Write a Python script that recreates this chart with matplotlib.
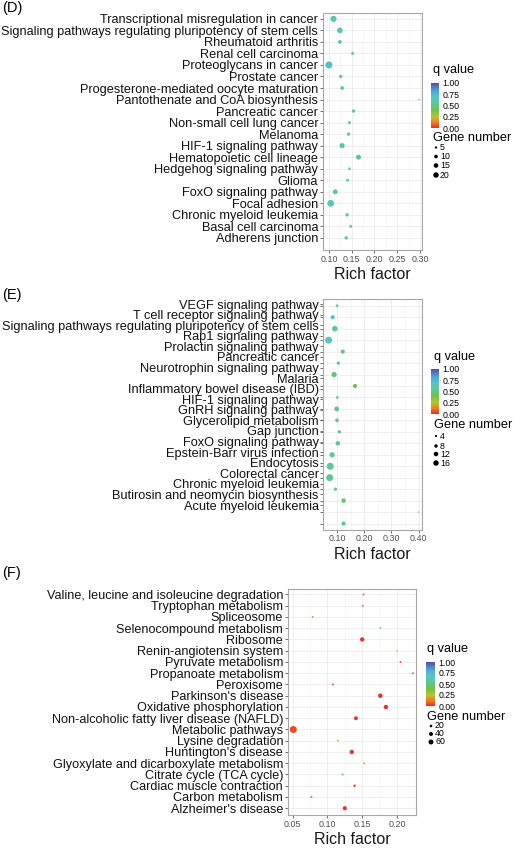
"""KEGG enrichment bubble plots, panels D/E/F."""

import numpy as np
import matplotlib.pyplot as plt
from matplotlib.colors import LinearSegmentedColormap, Normalize
from matplotlib.cm import ScalarMappable

plt.rcParams["font.family"] = ["Liberation Sans", "DejaVu Sans"]

W, H = 514, 850

# ---------------- data ----------------
d_terms = [
    "Transcriptional misregulation in cancer",
    "Signaling pathways regulating pluripotency of stem cells",
    "Rheumatoid arthritis",
    "Renal cell carcinoma",
    "Proteoglycans in cancer",
    "Prostate cancer",
    "Progesterone-mediated oocyte maturation",
    "Pantothenate and CoA biosynthesis",
    "Pancreatic cancer",
    "Non-small cell lung cancer",
    "Melanoma",
    "HIF-1 signaling pathway",
    "Hematopoietic cell lineage",
    "Hedgehog signaling pathway",
    "Glioma",
    "FoxO signaling pathway",
    "Focal adhesion",
    "Chronic myeloid leukemia",
    "Basal cell carcinoma",
    "Adherens junction",
]
d_rich = [0.110, 0.124, 0.124, 0.152, 0.100, 0.126, 0.129, 0.298, 0.154, 0.145,
          0.143, 0.129, 0.165, 0.145, 0.141, 0.114, 0.104, 0.140, 0.148, 0.138]
d_genes = [16, 14, 7, 5, 20, 6, 7, 2, 6, 5, 6, 12, 11, 4, 5, 11, 19, 6, 5, 6]
d_q = [0.62, 0.62, 0.66, 0.60, 0.72, 0.62, 0.60, 0.60, 0.60, 0.60,
       0.60, 0.62, 0.58, 0.62, 0.60, 0.62, 0.64, 0.62, 0.60, 0.60]

e_terms = [
    "VEGF signaling pathway",
    "T cell receptor signaling pathway",
    "Signaling pathways regulating pluripotency of stem cells",
    "Rap1 signaling pathway",
    "Prolactin signaling pathway",
    "Pancreatic cancer",
    "Neurotrophin signaling pathway",
    "Malaria",
    "Inflammatory bowel disease (IBD)",
    "HIF-1 signaling pathway",
    "GnRH signaling pathway",
    "Glycerolipid metabolism",
    "Gap junction",
    "FoxO signaling pathway",
    "Epstein-Barr virus infection",
    "Endocytosis",
    "Colorectal cancer",
    "Chronic myeloid leukemia",
    "Butirosin and neomycin biosynthesis",
    "Acute myeloid leukemia",
]
e_rich = [0.100, 0.084, 0.092, 0.069, 0.121, 0.105, 0.089, 0.166, 0.101, 0.099,
          0.100, 0.109, 0.103, 0.082, 0.075, 0.073, 0.094, 0.124, 0.400, 0.124]
e_genes = [4, 7, 11, 16, 7, 5, 10, 7, 4, 9, 6, 5, 8, 10, 16, 16, 5, 8, 2, 7]
e_q = [0.66, 0.70, 0.56, 0.68, 0.48, 0.60, 0.50, 0.42, 0.64, 0.54,
       0.54, 0.58, 0.56, 0.56, 0.54, 0.54, 0.66, 0.48, 0.62, 0.50]

f_terms = [
    "Valine, leucine and isoleucine degradation",
    "Tryptophan metabolism",
    "Spliceosome",
    "Selenocompound metabolism",
    "Ribosome",
    "Renin-angiotensin system",
    "Pyruvate metabolism",
    "Propanoate metabolism",
    "Peroxisome",
    "Parkinson's disease",
    "Oxidative phosphorylation",
    "Non-alcoholic fatty liver disease (NAFLD)",
    "Metabolic pathways",
    "Lysine degradation",
    "Huntington's disease",
    "Glyoxylate and dicarboxylate metabolism",
    "Citrate cycle (TCA cycle)",
    "Cardiac muscle contraction",
    "Carbon metabolism",
    "Alzheimer's disease",
]
f_rich = [0.152, 0.151, 0.079, 0.176, 0.150, 0.200, 0.205, 0.223, 0.108, 0.176,
          0.184, 0.141, 0.051, 0.115, 0.135, 0.153, 0.122, 0.139, 0.077, 0.125]
f_genes = [8, 7, 9, 8, 30, 6, 8, 7, 10, 32, 30, 25, 70, 8, 30, 8, 9, 12, 10, 28]
f_q = [0.06, 0.06, 0.30, 0.55, 0.01, 0.15, 0.03, 0.03, 0.10, 0.01,
       0.01, 0.01, 0.05, 0.30, 0.01, 0.32, 0.60, 0.03, 0.40, 0.01]

q_ticks = [0.0, 0.25, 0.5, 0.75, 1.0]

cmap = LinearSegmentedColormap.from_list("qv", [
    (0.00, "#EE2A24"), (0.12, "#F07A22"), (0.25, "#B5C72E"), (0.40, "#6CC24A"),
    (0.55, "#5CC79A"), (0.70, "#55C4C9"), (0.82, "#4AA8DC"), (1.00, "#5A4BA8")])
norm = Normalize(0, 1)


def px(x0, y0, x1, y1):
    return [x0 / W, 1 - y1 / H, (x1 - x0) / W, (y1 - y0) / H]


def dot_size(g, gmin, gmax, dmin=1.5, dmax=7.0):
    g = np.asarray(g, dtype=float)
    d = dmin + (dmax - dmin) * (np.sqrt(g) - np.sqrt(gmin)) / (np.sqrt(gmax) - np.sqrt(gmin))
    return (d * 72 / 100) ** 2


def panel(fig, box, terms, rich, genes, q, xlim, xticks, ylim, grange,
          label_pos=None, label_size=9.2):
    ax = fig.add_axes(px(*box))
    rows = np.arange(len(terms))
    ax.scatter(rich, rows, s=dot_size(genes, *grange), c=q, cmap=cmap,
               norm=norm, linewidths=0, zorder=3)
    ax.set_xlim(*xlim)
    ax.set_ylim(*ylim)
    ax.set_xticks(xticks)
    ax.set_xticklabels([f"{t:.2f}" for t in xticks], fontsize=6.4, color="#4D4D4D")
    mids = [(a + b) / 2 for a, b in zip(xticks[:-1], xticks[1:])]
    ax.set_xticks(mids, minor=True)
    if label_pos is None:
        ax.set_yticks(rows)
        ax.set_yticklabels(terms, fontsize=label_size, color="#111111")
    else:
        ax.set_yticks(rows)
        ax.set_yticklabels([""] * len(rows))
        ax.set_yticks(label_pos, minor=True)
        ax.set_yticklabels(terms, minor=True, fontsize=label_size, color="#111111")
        ax.tick_params(axis="y", which="minor", length=2, width=0.5,
                       color="#333333", pad=1)
    ax.tick_params(axis="both", which="major", length=2, width=0.5,
                   color="#333333", pad=1.5)
    ax.tick_params(axis="x", which="minor", length=0)
    ax.grid(True, which="major", color="#EBEBEB", linewidth=0.6, zorder=0)
    ax.grid(True, which="minor", axis="x", color="#F2F2F2", linewidth=0.4, zorder=0)
    ax.set_axisbelow(True)
    for sp in ax.spines.values():
        sp.set_color("#A6A6A6")
        sp.set_linewidth(0.8)
    ax.set_xlabel("Rich factor", fontsize=11.5, color="#1A1A1A", labelpad=2.5)
    return ax


def legend(fig, ov, x0, qy, cbar, gy, breaks, grange, entry_y, dot_x):
    ov.text(x0, qy, "q value", fontsize=9.2, va="center", ha="left")
    cax = fig.add_axes(px(*cbar))
    cb = fig.colorbar(ScalarMappable(norm=norm, cmap=cmap), cax=cax, ticks=q_ticks)
    cb.outline.set_visible(False)
    cb.ax.tick_params(length=2, width=0.5, color="white", labelsize=6.3, pad=0.5)
    cb.ax.set_yticklabels([f"{t:.2f}" for t in q_ticks])
    ov.text(x0, gy, "Gene number", fontsize=9.2, va="center", ha="left")
    ov.scatter([dot_x] * len(breaks), entry_y,
               s=dot_size(breaks, *grange) * 0.6, c="black", linewidths=0)
    for b, y in zip(breaks, entry_y):
        ov.text(dot_x + 4, y, str(b), fontsize=6.3, va="center", ha="left")


fig = plt.figure(figsize=(W / 100, H / 100), dpi=100)
ov = fig.add_axes([0, 0, 1, 1], zorder=5)
ov.set_xlim(0, W)
ov.set_ylim(H, 0)
ov.axis("off")

# panel D
panel(fig, (323, 12.5, 422, 250), d_terms, d_rich, d_genes, d_q,
      (0.087, 0.3045), [0.10, 0.15, 0.20, 0.25, 0.30], (20.05, -0.55), (2, 20))
legend(fig, ov, 433, 70, (431, 83, 439, 128), 138, [5, 10, 15, 20], (2, 20),
       [147.5, 156.5, 165.5, 175], 436)
ov.text(2, 8, "(D)", fontsize=10.5, va="center", ha="left")

# panel E: labels sit slightly compressed against the rows
e_label_pos = [-0.15 + 0.923 * i for i in range(len(e_terms))]
panel(fig, (323, 299, 422, 529.5), e_terms, e_rich, e_genes, e_q,
      (0.0485, 0.412), [0.10, 0.20, 0.30, 0.40], (19.52, -0.59), (2, 16),
      label_pos=e_label_pos)
legend(fig, ov, 434, 357, (431, 369, 439, 414), 425, [4, 8, 12, 16], (2, 16),
       [436, 446, 454, 463], 436)
ov.text(2, 295, "(E)", fontsize=10.5, va="center", ha="left")

# panel F
panel(fig, (288, 588.5, 416, 815), f_terms, f_rich, f_genes, f_q,
      (0.0434, 0.2273), [0.05, 0.10, 0.15, 0.20], (19.6, -0.53), (6, 70),
      label_size=9.1)
legend(fig, ov, 427, 649, (426, 662, 435, 706), 717, [20, 40, 60], (6, 70),
       [726, 734, 742], 431)
ov.text(2, 573, "(F)", fontsize=10.5, va="center", ha="left")

fig.savefig("out.png", dpi=100)
